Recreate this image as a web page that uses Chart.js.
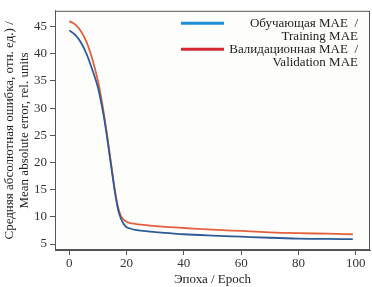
<!DOCTYPE html>
<html>
<head>
<meta charset="utf-8">
<script src="https://cdn.jsdelivr.net/npm/chart.js@4"></script>
<style>
  html, body { margin: 0; padding: 0; background: #fff; }
  #wrap { width: 372px; height: 287px; }
</style>
</head>
<body>
<div id="wrap"><canvas id="mae"></canvas></div>
<script>
// epochs
let epochs = [0, 2, 4, 6, 8, 10, 11, 12, 13, 14, 15, 16, 17, 18, 19, 20, 21, 23, 25, 30, 35, 40, 50, 60, 70, 80, 90, 99];
let train_mae = [44.3, 43.5, 42.1, 40.0, 37.1, 33.8, 31.4, 28.6, 25.3, 21.6, 17.9, 14.3, 11.4, 9.7, 8.7, 8.1, 7.9, 7.6, 7.45, 7.2, 7.0, 6.8, 6.55, 6.35, 6.15, 6.0, 5.95, 5.9];
let val_mae = [46.0, 45.4, 44.2, 42.2, 39.1, 35.0, 32.3, 29.2, 25.7, 22.0, 18.2, 14.6, 11.8, 10.2, 9.5, 9.1, 8.9, 8.7, 8.55, 8.3, 8.1, 7.95, 7.65, 7.4, 7.15, 7.0, 6.9, 6.8];
let y_ticks = [5, 10, 15, 20, 25, 30, 35, 40, 45];
let x_ticks = [0, 20, 40, 60, 80, 100];
let legend_lines = [
    ["Обучающая MAE  /", "Training MAE"],
    ["Валидационная MAE  /", "Validation MAE"]
];
let legend_colors = ["#1c8fd6", "#d42a33"];

const serif = "'Liberation Serif', 'DejaVu Serif', serif";

function points(xs, ys) {
    let out = [];
    for (let i = 0; i < xs.length; i++) {
        out.push({ x: xs[i], y: ys[i] });
    }
    return out;
}

// frame + legend drawn over the plot
const frame_legend = {
    id: "frame_legend",
    beforeDatasetsDraw(chart) {
        const a = chart.chartArea;
        const ctx = chart.ctx;
        ctx.save();
        ctx.fillStyle = "#fdfdfb";
        ctx.fillRect(a.left, a.top, a.right - a.left, a.bottom - a.top);
        ctx.restore();
    },
    afterDraw(chart) {
        const a = chart.chartArea;
        const ctx = chart.ctx;
        ctx.save();
        ctx.strokeStyle = "#555";
        ctx.lineWidth = 1;
        ctx.strokeRect(a.left + 0.5, a.top + 0.5, a.right - a.left - 1, a.bottom - a.top - 1);

        ctx.font = "13px " + serif;
        ctx.fillStyle = "#222";
        ctx.textAlign = "right";
        ctx.textBaseline = "middle";
        let y = a.top + 12.5;
        legend_lines.forEach((lines, i) => {
            ctx.strokeStyle = legend_colors[i];
            ctx.lineWidth = 3;
            ctx.beginPath();
            ctx.moveTo(181, y);
            ctx.lineTo(224, y);
            ctx.stroke();
            lines.forEach((t, j) => {
                ctx.fillText(t, a.right - 12, y + j * 13.5);
            });
            y += 26;
        });
        ctx.restore();
    }
};

new Chart(document.getElementById("mae"), {
    type: "line",
    data: {
        datasets: [
            {
                label: "Training MAE",
                data: points(epochs, train_mae),
                borderColor: "#2c5b97",
                borderWidth: 1.8,
                pointRadius: 0,
                cubicInterpolationMode: "monotone"
            },
            {
                label: "Validation MAE",
                data: points(epochs, val_mae),
                borderColor: "#e3603d",
                borderWidth: 1.8,
                pointRadius: 0,
                cubicInterpolationMode: "monotone"
            }
        ]
    },
    options: {
        responsive: true,
        maintainAspectRatio: false,
        animation: false,
        layout: { padding: { top: 2, right: 2, left: 0, bottom: 0 } },
        plugins: {
            legend: { display: false },
            tooltip: { enabled: false }
        },
        scales: {
            x: {
                type: "linear",
                min: -5,
                max: 105,
                afterBuildTicks: (s) => { s.ticks = x_ticks.map(v => ({ value: v })); },
                afterFit: (s) => { s.height = 37; },
                grid: { drawOnChartArea: false, drawTicks: true, tickLength: 5, color: "#555" },
                border: { display: true, color: "#555" },
                ticks: { color: "#333", font: { family: serif, size: 13 }, padding: 1, maxRotation: 0 },
                title: { display: true, text: "Эпоха / Epoch", color: "#222", font: { family: serif, size: 13 }, padding: { top: 0, bottom: 0 } }
            },
            y: {
                type: "linear",
                min: 3.9,
                max: 47.9,
                afterBuildTicks: (s) => { s.ticks = y_ticks.map(v => ({ value: v })); },
                afterFit: (s) => { s.width = 55; },
                grid: { drawOnChartArea: false, drawTicks: true, tickLength: 5, color: "#555" },
                border: { display: true, color: "#555" },
                ticks: { color: "#333", font: { family: serif, size: 13 }, padding: 3 },
                title: {
                    display: true,
                    text: ["Средняя абсолютная ошибка, отн. ед.) /", "Mean absolute error, rel. units"],
                    color: "#222",
                    font: { family: serif, size: 13, lineHeight: 1.15 },
                    padding: { top: 2, bottom: 0 }
                }
            }
        }
    },
    plugins: [frame_legend]
});
</script>
</body>
</html>
